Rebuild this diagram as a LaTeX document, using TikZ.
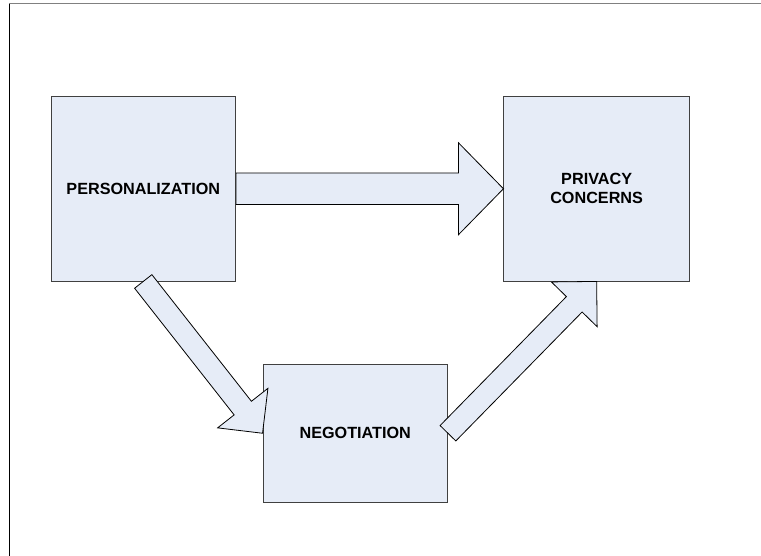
\documentclass[tikz,border=0pt]{standalone}
\usepackage{fontspec}
\setmainfont{Liberation Sans}
\usetikzlibrary{positioning, calc}
\definecolor{azulclaro}{HTML}{E6ECF7}
\definecolor{contorno}{HTML}{404040}

% block arrow: from, to, half shaft, half head, head length
\newcommand{\setagrossa}[5]{%
    \coordinate (base) at ($(#2)!#5!(#1)$);
    \draw[setao] ($(#1)!#3!90:(#2)$) -- ($(base)!#3!90:(#2)$)
        -- ($(base)!#4!90:(#2)$) -- (#2) -- ($(base)!#4!-90:(#2)$)
        -- ($(base)!#3!-90:(#2)$) -- ($(#1)!#3!-90:(#2)$) -- cycle;
}

\begin{document}
\begin{tikzpicture}[
    x=1pt, y=-1pt,
    bloco/.style={
        rectangle, draw=contorno, fill=azulclaro, line width=0.9pt,
        minimum width=184.5pt, minimum height=184.5pt, inner sep=0pt,
        align=center, font=\bfseries\fontsize{16.2}{18.8}\selectfont
    },
    setao/.style={draw=black, fill=azulclaro, line width=0.8pt},
    moldura/.style={line width=1pt}
]
\useasboundingbox (0,0) rectangle (761,556);
% page frame
\draw[moldura, gray] (9.2,3.8) -- (761,3.8);
\draw[moldura, black] (9.2,3.8) -- (9.2,556);

\node[bloco] (pers) at (143.25,188.75) {PERSONALIZATION};
\node[bloco, right=267.5pt of pers, minimum width=185.5pt] (priv) {PRIVACY\\CONCERNS};
\node[bloco, minimum height=138.5pt] (neg) at (355.25,433.25) {NEGOTIATION};

\setagrossa{pers.east}{priv.west}{15.8pt}{46pt}{45pt}
\setagrossa{pers.south}{neg.west}{11pt}{32pt}{32pt}
\setagrossa{neg.east}{priv.south}{11pt}{32pt}{32pt}
\end{tikzpicture}
\end{document}
